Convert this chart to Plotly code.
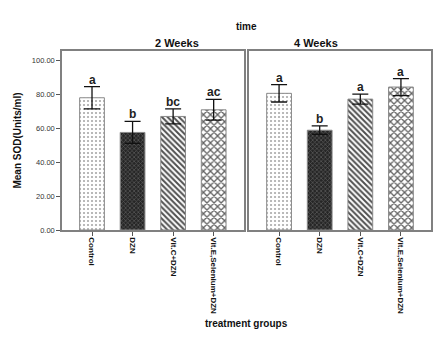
import plotly.graph_objects as go

groups = ["Control", "DZN", "Vit.C+DZN", "Vit.E,Selenium+DZN"]
mean_2w = [77.8, 57.4, 66.8, 70.7]
err_2w = [6.6, 6.5, 4.4, 6.1]
letters_2w = ["a", "b", "bc", "ac"]
mean_4w = [80.4, 58.7, 77.0, 84.1]
err_4w = [5.1, 2.5, 2.9, 5.0]
letters_4w = ["a", "b", "a", "a"]
panels = ["2 Weeks", "4 Weeks"]

FONT = "Liberation Sans, Arial, sans-serif"
shapes_p = [".", "x", "\\", "x"]
bg = ["#ffffff", "#262626", "#ffffff", "#ffffff"]
fg = ["#a8a8a8", "#5a5a5a", "#505050", "#606060"]
psize = [4, 3, 4, 5]
psol = [0.22, 0.4, 0.5, 0.45]

fig = go.Figure()
for m, e, xa, ya in [(mean_2w, err_2w, "x", "y"), (mean_4w, err_4w, "x2", "y2")]:
    for k, g in enumerate(groups):
        fig.add_trace(go.Bar(
            x=[g], y=[m[k]], xaxis=xa, yaxis=ya, width=0.61,
            marker=dict(
                color=bg[k],
                line=dict(color="#8a8a8a", width=1),
                pattern=dict(shape=shapes_p[k], bgcolor=bg[k], fgcolor=fg[k], size=psize[k],
                             solidity=psol[k], fillmode="replace"),
            ),
            error_y=dict(type="data", array=[e[k]], color="#111111", thickness=1.3, width=8),
            showlegend=False,
        ))

annotations = []
for m, e, L, xa, ya in [(mean_2w, err_2w, letters_2w, "x", "y"), (mean_4w, err_4w, letters_4w, "x2", "y2")]:
    for g, mv, ev, l in zip(groups, m, e, L):
        annotations.append(dict(x=g, y=mv + ev, xref=xa, yref=ya, text="<b>" + l + "</b>",
                                showarrow=False, yanchor="bottom", yshift=-2,
                                font=dict(family=FONT, size=12, color="#222222")))

dom1 = [0, 0.4924]
dom2 = [0.5068, 1]
annotations += [
    dict(x=sum(dom1) / 2, y=1.0, xref="paper", yref="paper", text="<b>2 Weeks</b>", showarrow=False,
         yanchor="bottom", yshift=0, font=dict(family=FONT, size=11, color="#111")),
    dict(x=sum(dom2) / 2, y=1.0, xref="paper", yref="paper", text="<b>4 Weeks</b>", showarrow=False,
         yanchor="bottom", yshift=0, font=dict(family=FONT, size=11, color="#111")),
    dict(x=0.5, y=1.0, xref="paper", yref="paper", text="<b>time</b>", showarrow=False,
         yanchor="bottom", yshift=17, font=dict(family=FONT, size=10, color="#111")),
    dict(x=0.5, y=0, xref="paper", yref="paper", text="<b>treatment groups</b>", showarrow=False,
         yanchor="middle", yshift=-93, font=dict(family=FONT, size=10, color="#111")),
]

xcommon = dict(showline=True, linecolor="#808080", linewidth=1.5, mirror=True,
               ticks="outside", ticklen=4, tickcolor="#555", tickangle=90,
               tickmode="array", tickvals=groups, ticktext=["<b>" + g + "</b>" for g in groups],
               tickfont=dict(family=FONT, size=8, color="#111"), range=[-0.74, 3.74],
               showgrid=False, zeroline=False, automargin=False, type="category")
ycommon = dict(range=[0, 105.3], showline=True, linecolor="#808080", linewidth=1.5, mirror=True,
               showgrid=False, zeroline=False, tickvals=[0, 20, 40, 60, 80, 100], tickformat=".2f",
               automargin=False)

fig.update_layout(
    width=442, height=355,
    margin=dict(l=62, r=11, t=51, b=125, autoexpand=False),
    paper_bgcolor="white", plot_bgcolor="white",
    font=dict(family=FONT, color="#111"),
    barmode="overlay",
    xaxis=dict(domain=dom1, anchor="y", **xcommon),
    xaxis2=dict(domain=dom2, anchor="y2", **xcommon),
    yaxis=dict(anchor="x", ticks="outside", ticklen=4, tickcolor="#555",
               tickfont=dict(family=FONT, size=7.5, color="#333"),
               title=dict(text="<b>Mean SOD(Units/ml)</b>", font=dict(family=FONT, size=10, color="#111"),
                          standoff=8),
               **ycommon),
    yaxis2=dict(anchor="x2", showticklabels=False, ticks="", **ycommon),
    annotations=annotations,
)

fig.write_html("out.html", config={"displayModeBar": False},
               post_script="document.body.style.margin='0';document.body.style.overflow='hidden';")
